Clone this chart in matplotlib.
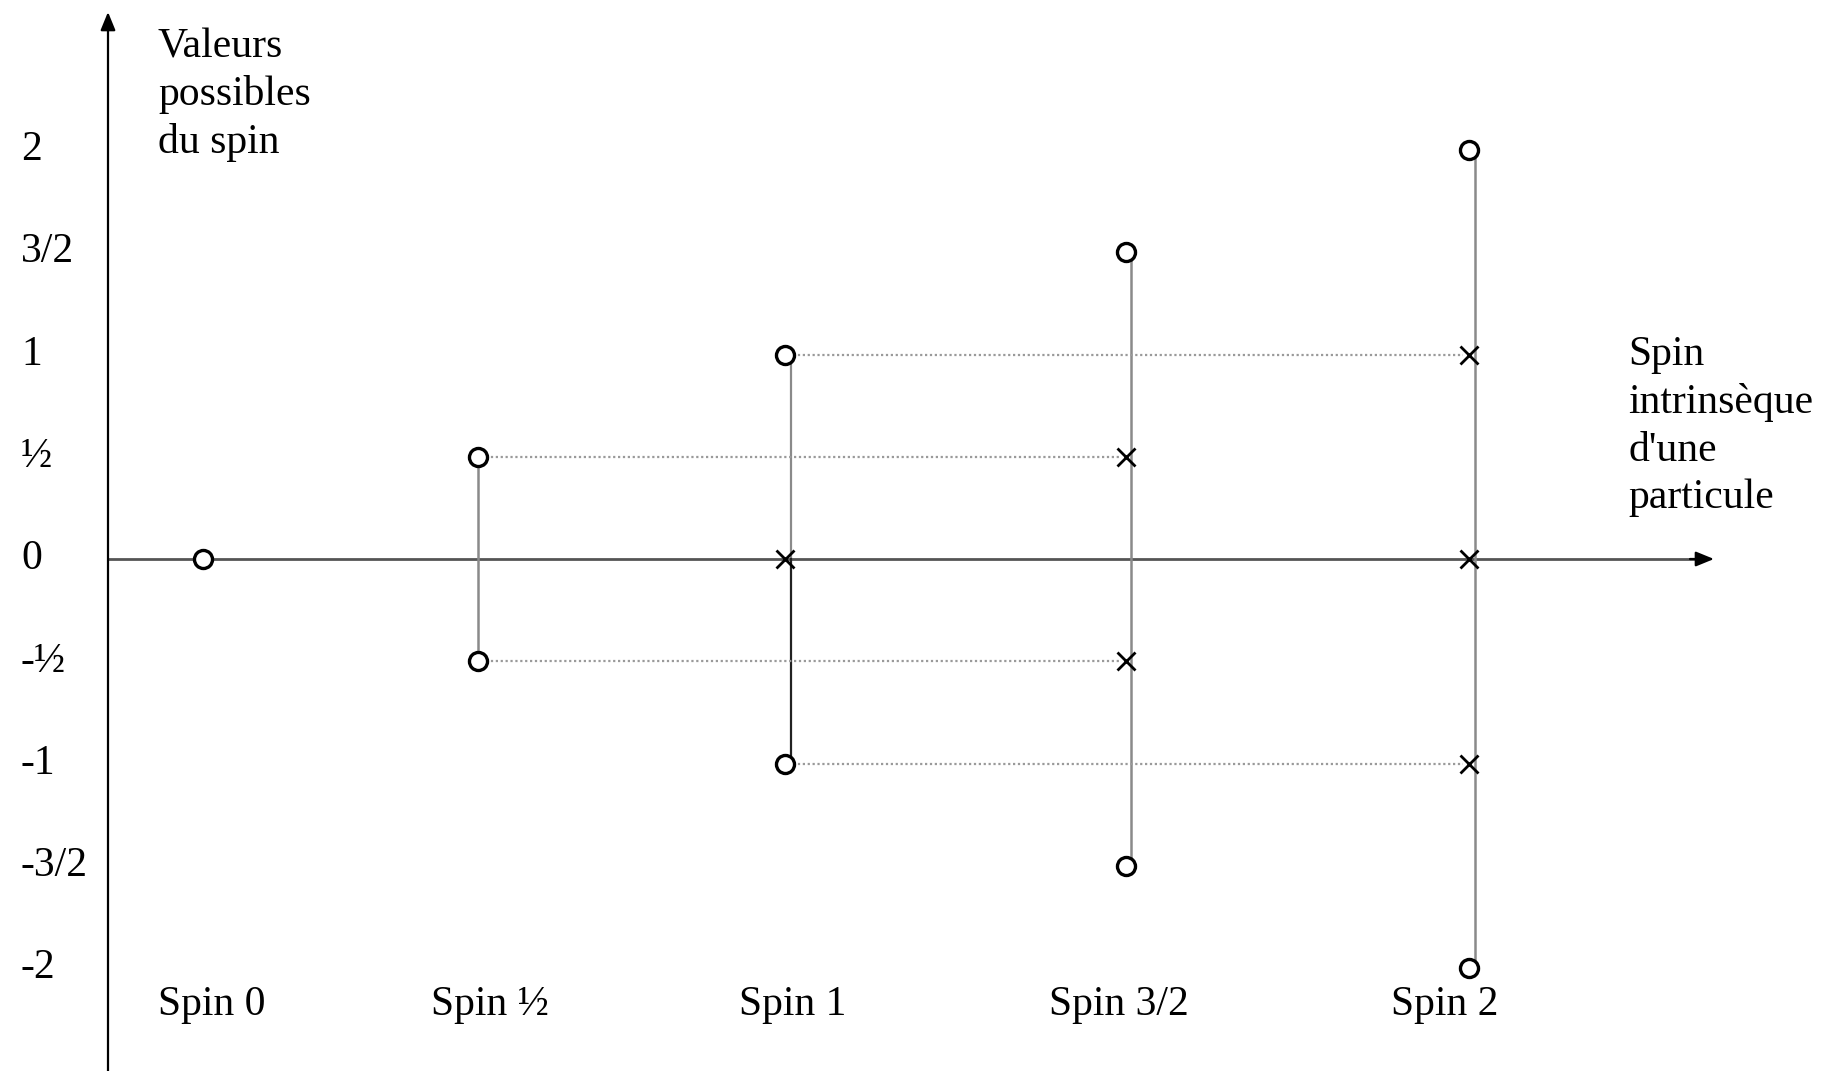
import matplotlib.pyplot as plt

plt.rcParams['font.family'] = ['Liberation Serif', 'DejaVu Serif']

# spin columns
spin_labels = ['Spin 0', 'Spin ½', 'Spin 1', 'Spin 3/2', 'Spin 2']
# extreme values (drawn as circles) and intermediate ones (drawn as x)
circle_vals = [[0], [0.5, -0.5], [1, -1], [1.5, -1.5], [2, -2]]
cross_vals = [[], [], [0], [0.5, -0.5], [1, 0, -1]]

# y ticks
tick_vals = [2, 1.5, 1, 0.5, 0, -0.5, -1, -1.5, -2]
tick_labels = ['2', '3/2', '1', '½', '0', '-½', '-1', '-3/2', '-2']

# dotted links: (from column, to column, value)
links = [(1, 3, 0.5), (1, 3, -0.5), (2, 4, 1), (2, 4, -1)]

# layout (pixel-like x positions of the columns)
col_x = [203, 478, 785, 1126, 1469]
line_dx = [0, 0, 6, 5, 6]
W, H = 1827, 1071
y0 = 559        # pixel row of value 0
unit = 204.5    # pixels per unit of spin
fs = 30


def py(pix):
  return (y0 - pix) / unit


fig = plt.figure(figsize=(W / 100, H / 100), dpi=100)
ax = fig.add_axes([0, 0, 1, 1])
ax.set_xlim(0, W)
ax.set_ylim(py(H), py(0))
ax.axis('off')

head = '-|>,head_length=1.1,head_width=0.45'

# y axis
ax.annotate('', xy=(108, py(12)), xytext=(108, py(H + 5)),
            arrowprops=dict(arrowstyle=head, color='black', lw=1.6,
                            shrinkA=0, shrinkB=0))
# x axis: gray line, black head
ax.plot([108, 1695], [0, 0], color='#555555', lw=2.0, zorder=1)
ax.annotate('', xy=(1714, 0), xytext=(1690, 0),
            arrowprops=dict(arrowstyle=head, color='black', lw=1.6,
                            shrinkA=0, shrinkB=0))

# vertical lines of each column
for i in range(1, len(col_x)):
  top = max(circle_vals[i])
  bot = min(circle_vals[i])
  x = col_x[i] + line_dx[i]
  if i == 2:
    ax.plot([x, x], [top, 0], color='#8a8a8a', lw=1.6, zorder=1)
    ax.plot([x, x], [0, bot], color='#222222', lw=1.6, zorder=1)
  else:
    ax.plot([x, x], [top, bot], color='#8a8a8a', lw=1.8, zorder=1)

# dotted links
for a, b, v in links:
  ax.plot([col_x[a] + 8, col_x[b] - 6], [v, v], color='#9a9a9a', lw=1.6,
          linestyle=(0, (1, 1.2)), zorder=1)

# markers
for i in range(len(col_x)):
  cv = circle_vals[i]
  ax.plot([col_x[i]] * len(cv), cv, 'o', ms=13, mfc='white', mec='black',
          mew=2.4, zorder=3)
  xv = cross_vals[i]
  if xv:
    ax.plot([col_x[i]] * len(xv), xv, 'x', ms=13, color='black', mew=2.0,
            zorder=3)

# tick labels
for v, t in zip(tick_vals, tick_labels):
  ax.text(21, v, t, fontsize=fs, ha='left', va='center')

# column labels
label_x = [158, 431, 739, 1049, 1391]
for x, t in zip(label_x, spin_labels):
  ax.text(x, py(1005), t, fontsize=fs, ha='left', va='center')

# axis titles
ax.text(158, py(28), 'Valeurs\npossibles\ndu spin', fontsize=fs,
        ha='left', va='top', linespacing=1.3)
ax.text(1628, py(336), 'Spin\nintrinsèque\nd\'une\nparticule', fontsize=fs,
        ha='left', va='top', linespacing=1.3)

fig.savefig('out.png', dpi=100)
